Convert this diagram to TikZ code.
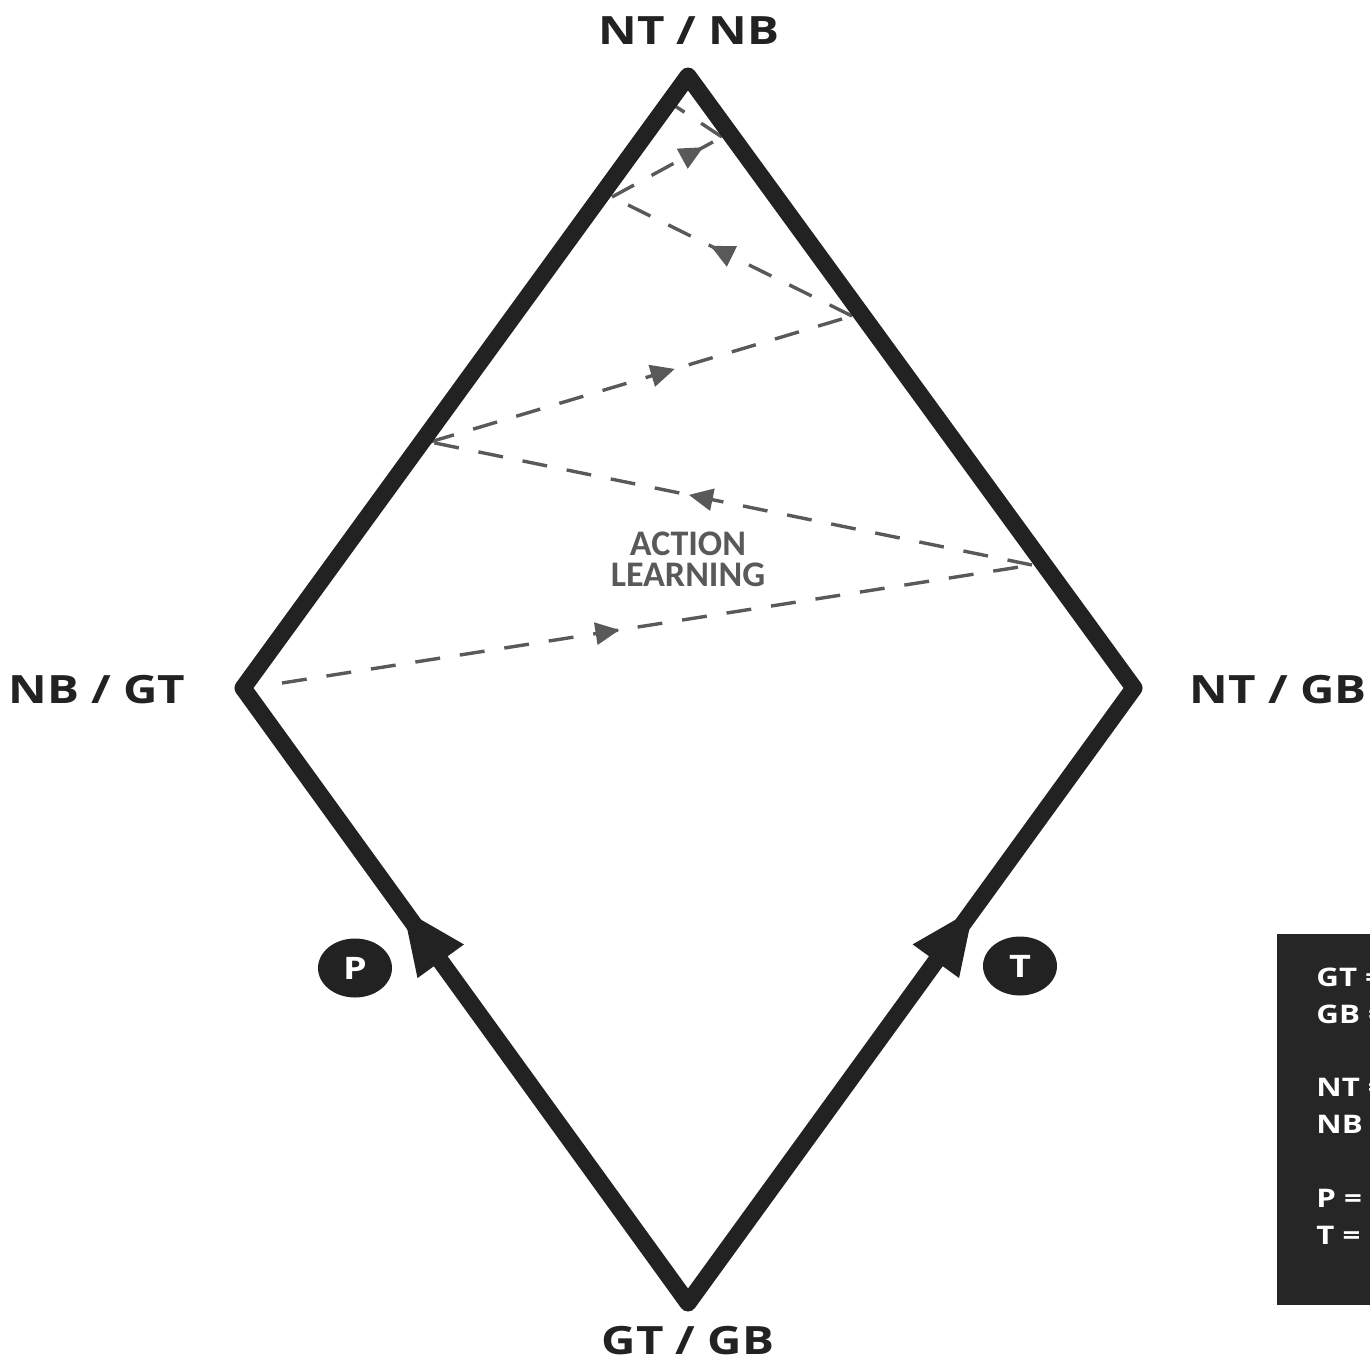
\documentclass[tikz,border=0pt]{standalone}
\usepackage{fontspec}
\usetikzlibrary{arrows.meta,decorations.markings,shapes.geometric}
\newfontfamily\labfont{Open Sans}[FakeStretch=1.22]
\newfontfamily\calfont{Carlito}
\definecolor{ink}{HTML}{222222}
\definecolor{flowgray}{HTML}{595959}
\definecolor{panel}{HTML}{262626}
\begin{document}
\begin{tikzpicture}[x=0.5pt,y=-0.5pt,
  edge/.style={line width=8.5pt, draw=ink, line join=round, line cap=round},
  flow/.style={draw=flowgray, line width=1.7pt, dash pattern=on 12.5pt off 10pt},
  midarrow/.style={postaction={decorate, decoration={markings,
      mark=at position #1 with {\arrow[solid]{Triangle[length=12pt,width=11pt]}}}}},
  bigarrow/.style={postaction={decorate, decoration={markings,
      mark=at position #1 with {\arrow{Triangle[length=32pt,width=28.5pt]}}}}},
  lab/.style={inner sep=0pt, text=ink, font=\labfont\bfseries\fontsize{19.5}{23}\selectfont},
  keytext/.style={inner sep=0pt, text=white, anchor=base west, font=\labfont\bfseries\fontsize{12.8}{15}\selectfont},
  badge/.style={ellipse, fill=ink, inner sep=0pt, minimum width=37pt, minimum height=29.5pt,
      text=white, font=\labfont\bfseries\fontsize{15.5}{17}\selectfont},
  center/.style={inner sep=0pt, text=flowgray, align=center,
      font=\calfont\bfseries\fontsize{18}{15.5}\selectfont}
]
\useasboundingbox (0,0) rectangle (1370,1371);

% diamond corners
\coordinate (top) at (688,76);
\coordinate (left) at (243,688);
\coordinate (right) at (1134,688);
\coordinate (bottom) at (688,1303);

% zig-zag of the learning loop
\coordinate (z0) at (282,683);
\coordinate (z1) at (1032,565);
\coordinate (z2) at (430,442);
\coordinate (z3) at (852,316);
\coordinate (z4) at (612,197);
\coordinate (z5) at (722,137);
\coordinate (z6) at (672,104);

\draw[flow, midarrow=0.45] (z0) -- (z1);
\draw[flow, midarrow=0.57] (z1) -- (z2);
\draw[flow, midarrow=0.58] (z2) -- (z3);
\draw[flow, midarrow=0.59] (z3) -- (z4);
\draw[flow, midarrow=0.83] (z4) -- (z5);
\draw[flow] (z5) -- (z6);

% outline
\draw[edge] (top) -- (right) -- (bottom) -- (left) -- cycle;
\path[color=ink, line width=0.6pt, bigarrow=0.64] (bottom) -- (left);
\path[color=ink, line width=0.6pt, bigarrow=0.64] (bottom) -- (right);

% corner labels
\node[lab, anchor=base] (ntnb) at (689,44) {NT / NB};
\node[lab, anchor=base] (nbgt) at (97,703) {NB / GT};
\node[lab, anchor=base] (ntgb) at (1278,703) {NT / GB};
\node[lab, anchor=base] (gtgb) at (688,1354) {GT / GB};

\node[center] (act) at (688,559) {ACTION\\LEARNING};

% path badges
\node[badge] (pb) at (355,968) {P};
\node[badge] (tb) at (1020,966) {T};

% key panel
\fill[panel] (1277,934) rectangle (1380,1305);
\node[keytext] (kgt) at (1316,986) {GT =};
\node[keytext] (kgb) at (1316,1023) {GB =};
\node[keytext] (knt) at (1316,1096) {NT =};
\node[keytext] (knb) at (1316,1133) {NB =};
\node[keytext] (kp) at (1316,1207) {P =};
\node[keytext] (kt) at (1316,1244) {T =};
\end{tikzpicture}
\end{document}
